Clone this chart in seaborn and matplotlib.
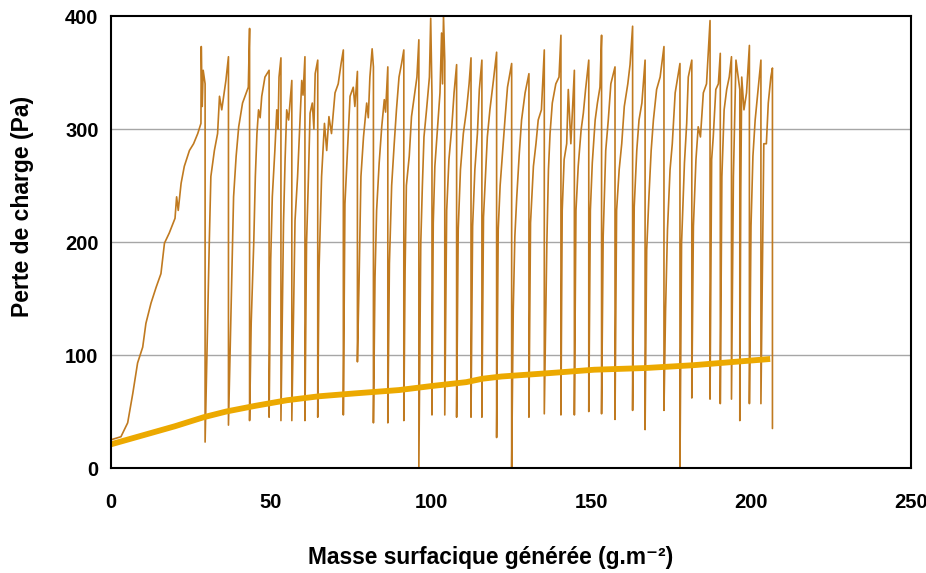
import matplotlib
matplotlib.use("Agg")
import matplotlib.pyplot as plt
import pandas as pd
import seaborn as sns

# courbe de colmatage
saw_x = [0, 3.1, 5.2, 6.8, 8.3, 9.9, 10.9, 12.5, 14.1, 15.6, 16.7, 18.2, 20.0, 20.5, 21.0, 21.9, 22.9, 24.5, 25.8, 27.1,
         28.1, 28.2, 28.5, 28.8, 29.4, 29.4,
         29.7, 30.2, 30.7, 31.2, 32.3, 33.3, 33.9, 34.6, 35.9, 36.7, 36.7,
         37.5, 38.3, 39.1, 39.9, 41.1, 42.9, 43.3, 43.3,
         43.8, 44.6, 45.1, 45.6, 46.1, 46.6, 47.1, 48.1, 49.4, 49.4,
         49.9, 50.4, 51.2, 51.8, 52.2, 52.5, 53.1, 53.1,
         53.9, 54.4, 54.9, 55.5, 56.5, 56.5,
         57.0, 57.5, 58.3, 59.1, 59.6, 60.0, 60.6, 60.6,
         61.1, 61.7, 62.2, 62.9, 63.4, 63.8, 64.6, 64.6,
         65.0, 65.8, 66.7, 67.4, 68.1, 68.9, 70.0, 71.0, 71.9, 72.6, 72.6,
         73.1, 74.0, 74.7, 75.7, 76.2, 77.0, 77.0,
         77.5, 78.1, 78.9, 79.9, 80.4, 80.9, 81.6, 82.0, 82.0,
         82.5, 83.0, 83.8, 84.6, 85.4, 85.8, 86.5, 86.5,
         87.0, 87.7, 88.5, 89.2, 90.0, 90.8, 91.5, 91.5,
         91.9, 92.3, 93.2, 93.9, 95.0, 95.6, 96.2, 96.2,
         96.8, 97.3, 97.8, 98.6, 99.5, 99.9, 100.3, 100.3,
         100.7, 101.2, 102.0, 102.8, 103.3, 103.6, 103.9, 104.3, 104.3,
         104.9, 105.6, 106.5, 107.2, 108.0, 108.0,
         108.5, 109.2, 110.1, 111.1, 111.9, 112.5, 112.5,
         113.0, 113.7, 114.5, 115.1, 115.9, 115.9,
         116.4, 117.0, 117.6, 118.4, 119.5, 120.5, 120.5,
         121.0, 121.6, 122.4, 123.1, 123.9, 125.2, 125.2,
         125.7, 126.2, 126.8, 127.6, 128.3, 129.4, 130.6, 130.6,
         131.1, 132.0, 132.8, 133.5, 134.5, 135.4, 135.4,
         136.2, 136.7, 137.2, 137.9, 139.0, 140.0, 140.6, 140.6,
         141.0, 141.6, 142.4, 142.9, 143.7, 144.8, 144.8,
         145.3, 146.0, 146.9, 147.6, 148.3, 149.3, 149.3,
         149.8, 150.4, 151.3, 152.0, 152.8, 153.3, 153.3,
         153.8, 154.6, 155.4, 156.2, 157.5, 157.5,
         158.0, 158.8, 159.6, 160.4, 161.5, 162.2, 163.0, 163.0,
         163.5, 164.3, 165.0, 165.9, 166.9, 166.9,
         167.4, 168.1, 168.8, 169.5, 170.5, 171.6, 172.8, 172.8,
         173.3, 173.9, 174.7, 175.4, 176.3, 177.8, 177.8,
         178.3, 179.2, 179.9, 180.4, 181.5, 181.5,
         182.0, 182.8, 183.5, 184.2, 185.1, 186.1, 187.2, 187.2,
         187.7, 188.2, 189.0, 189.8, 190.4, 190.4,
         190.9, 191.6, 192.4, 193.2, 193.9, 193.9,
         194.5, 195.3, 196.0, 196.5, 196.5,
         196.8, 197.1, 197.8, 198.6, 199.5, 199.5,
         200.0, 200.6, 201.3, 201.9, 203.1, 203.1,
         203.6, 204.0, 204.8, 205.4, 206.2, 206.7, 206.7]
saw_y = [25, 27.7, 40, 66, 93, 107, 128, 146, 160, 172, 199, 208, 221, 240, 228, 252, 267, 281, 287, 296,
         305, 373, 320, 352, 340, 23,
         63, 134, 199, 258, 281, 296, 329, 317, 343, 364, 38,
         140, 240, 276, 302, 323, 337, 389, 42,
         128, 199, 258, 296, 317, 310, 329, 346, 352, 45,
         184, 240, 281, 317, 300, 346, 363, 42,
         217, 273, 317, 308, 343, 42,
         131, 219, 258, 311, 343, 330, 364, 42,
         199, 258, 314, 323, 300, 349, 361, 45,
         175, 258, 305, 281, 311, 296, 332, 340, 358, 370, 47,
         234, 287, 329, 337, 320, 351, 94,
         163, 258, 293, 323, 310, 346, 371, 355, 40,
         169, 228, 270, 302, 326, 315, 355, 40,
         181, 250, 287, 317, 346, 358, 370, 42,
         175, 250, 276, 311, 334, 346, 379, 1,
         199, 250, 293, 317, 346, 398, 330, 47,
         217, 267, 299, 332, 385, 340, 400, 360, 47,
         228, 273, 302, 332, 357, 45,
         211, 264, 296, 317, 340, 363, 45,
         214, 264, 296, 335, 361, 45,
         222, 258, 293, 317, 343, 368, 27,
         211, 250, 281, 308, 337, 358, 0,
         140, 205, 240, 279, 308, 332, 349, 45,
         217, 267, 287, 308, 317, 370, 48,
         199, 264, 296, 323, 340, 346, 383, 47,
         228, 273, 287, 335, 287, 352, 47,
         228, 267, 299, 314, 335, 361, 50,
         228, 270, 308, 323, 337, 383, 48,
         205, 281, 308, 340, 355, 43,
         228, 264, 287, 320, 340, 357, 391, 51,
         231, 281, 308, 323, 361, 34,
         193, 240, 281, 308, 335, 346, 373, 51,
         140, 211, 264, 287, 332, 358, 0,
         199, 270, 305, 346, 361, 62,
         214, 273, 302, 293, 332, 340, 396, 61,
         273, 293, 335, 340, 367, 57,
         258, 317, 335, 346, 364, 61,
         258, 361, 346, 335, 42,
         244, 346, 317, 332, 374, 57,
         214, 276, 308, 326, 361, 57,
         184, 287, 287, 323, 346, 354, 35]

# perte de charge initiale après décolmatage
base_x = [0, 10, 20, 29, 36, 45, 55, 65, 76, 90, 100, 111, 116, 122, 137, 151, 167, 182, 195, 206]
base_y = [21, 29, 37, 45, 50, 55, 60, 63.5, 66, 69, 72.5, 76, 79, 81, 84, 87, 88.5, 91, 94, 96.5]

x_ticks = [0, 50, 100, 150, 200, 250]
y_ticks = [0, 100, 200, 300, 400]

saw = pd.DataFrame({"x": saw_x, "y": saw_y})
base = pd.DataFrame({"x": base_x, "y": base_y})

sns.set_style("white")
plt.rcParams["font.family"] = ["Liberation Sans", "DejaVu Sans"]
plt.rcParams["font.weight"] = "bold"
plt.rcParams["text.color"] = "black"
plt.rcParams["xtick.color"] = "black"
plt.rcParams["ytick.color"] = "black"

fig = plt.figure(figsize=(9.26, 5.73), dpi=100)
ax = fig.add_axes([0.1199, 0.1832, 0.8639, 0.7888])

sns.lineplot(data=saw, x="x", y="y", ax=ax, sort=False, estimator=None,
             color="#C07A20", linewidth=1.2)
sns.lineplot(data=base, x="x", y="y", ax=ax, sort=False, estimator=None,
             color="#ECA900", linewidth=4.2, solid_capstyle="butt")

ax.set_xlim(0, 250)
ax.set_ylim(0, 400)
ax.set_xticks(x_ticks)
ax.set_yticks(y_ticks)
for v in [100, 200, 300]:
    ax.axhline(v, color="#A6A6A6", linewidth=1.0, zorder=0)

ax.tick_params(axis="x", direction="out", length=6, width=1.2, pad=12, labelsize=14.5)
ax.tick_params(axis="y", length=0, pad=9, labelsize=14.5)
for lab in ax.get_xticklabels() + ax.get_yticklabels():
    lab.set_fontweight("bold")

for s in ax.spines.values():
    s.set_color("black")
    s.set_linewidth(1.5)

ax.set_xlabel("")
ax.set_ylabel("")
fig.text(0.024, 0.639, "Perte de charge (Pa)", rotation=90, ha="center", va="center",
         fontsize=16.5, fontweight="bold")
fig.text(0.53, 0.027, "Masse surfacique générée (g.m\u207b\u00b2)", ha="center", va="center",
         fontsize=16.4, fontweight="bold")

fig.savefig("out.png", dpi=100)
